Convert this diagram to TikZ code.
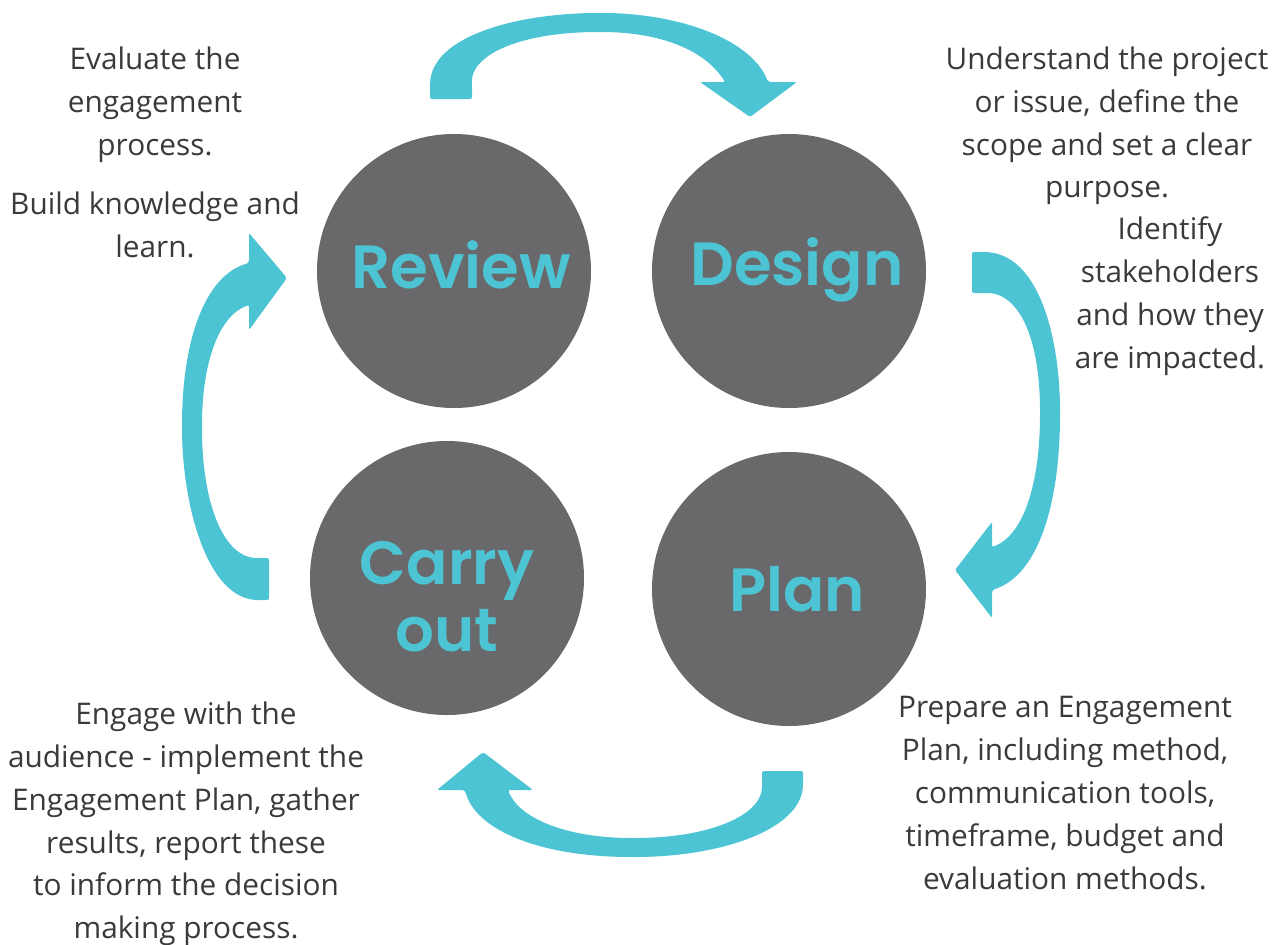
\documentclass[tikz,border=0pt]{standalone}
\usepackage{fontspec}
\setmainfont{Open Sans}
\newfontfamily\headfont{Poppins}[UprightFont=* SemiBold]
\definecolor{teal}{HTML}{4DC4D3}
\definecolor{disc}{HTML}{69686A}
\definecolor{body}{HTML}{3A3A3A}
\begin{document}
\begin{tikzpicture}[x=1pt,y=-1pt,
  stage/.style={circle,fill=disc,minimum size=274pt,inner sep=0pt},
  stagelabel/.style={text=teal,font=\headfont\fontsize{61}{67}\selectfont,align=center},
  note/.style={text=body,font=\fontsize{29.8}{42.8}\selectfont,align=center},
  curvearrow/.style={fill=teal,rounded corners=2pt}]
\useasboundingbox (0,0) rectangle (1285,945);

% four stages
\node[stage] (review) at (454,271) {};
\node[stage] (design) at (789,271) {};
\node[stage] (carry)  at (447,578) {};
\node[stage] (plan)   at (789,589) {};
\node[stagelabel] at (461,265) {Review};
\node[stagelabel] at (797,270) {Design};
\node[stagelabel] at (447,597) {Carry\\out};
\node[stagelabel] at (797,589) {Plan};

% curved arrows between stages
\fill[curvearrow] (430,99) -- (430,85) .. controls (432,35) and (520,13) .. (600,13)
  .. controls (680,13) and (752,40) .. (768,82) -- (797,82) -- (750,117) -- (700,82) -- (725,82)
  .. controls (705,50) and (660,32) .. (600,32) .. controls (520,32) and (470,55) .. (472,85)
  -- (472,99) -- cycle;
\fill[curvearrow] (972,252) -- (985,252) .. controls (1040,255) and (1060,340) .. (1060,413)
  .. controls (1060,500) and (1040,575) .. (992,590) -- (992,618) -- (955,570) -- (992,522) -- (992,547)
  .. controls (1025,535) and (1040,480) .. (1040,413) .. controls (1040,340) and (1020,293) .. (985,293)
  -- (972,293) -- cycle;
\fill[curvearrow] (803,771) -- (803,785) .. controls (800,830) and (720,857) .. (633,857)
  .. controls (540,857) and (475,830) .. (465,790) -- (437,790) -- (483,752) -- (533,790) -- (508,790)
  .. controls (520,820) and (570,838) .. (633,838) .. controls (710,838) and (762,815) .. (762,785)
  -- (762,771) -- cycle;
\fill[curvearrow] (269,600) -- (256,600) .. controls (205,595) and (182,500) .. (182,427)
  .. controls (182,340) and (205,275) .. (249,263) -- (249,233) -- (287,278) -- (249,330) -- (249,305)
  .. controls (220,315) and (202,360) .. (202,427) .. controls (202,500) and (222,555) .. (256,558)
  -- (269,558) -- cycle;

% descriptions
\node[note] (reviewA) at (155,105) {Evaluate the\\engagement\\process.};
\node[note] (reviewB) at (155,225) {Build knowledge and\\learn.};
\node[note] (designA) at (1107,126) {Understand the project\\or issue, define the\\scope and set a clear\\purpose.};
\node[note] (designB) at (1170,296) {Identify\\stakeholders\\and how they\\are impacted.};
\node[note] (planA) at (1065,793) {Prepare an Engagement\\Plan, including method,\\communication tools,\\timeframe, budget and\\evaluation methods.};
\node[note] (carryA) at (186,824) {Engage with the\\audience - implement the\\Engagement Plan, gather\\results, report these\\to inform the decision\\making process.};
\end{tikzpicture}
\end{document}
